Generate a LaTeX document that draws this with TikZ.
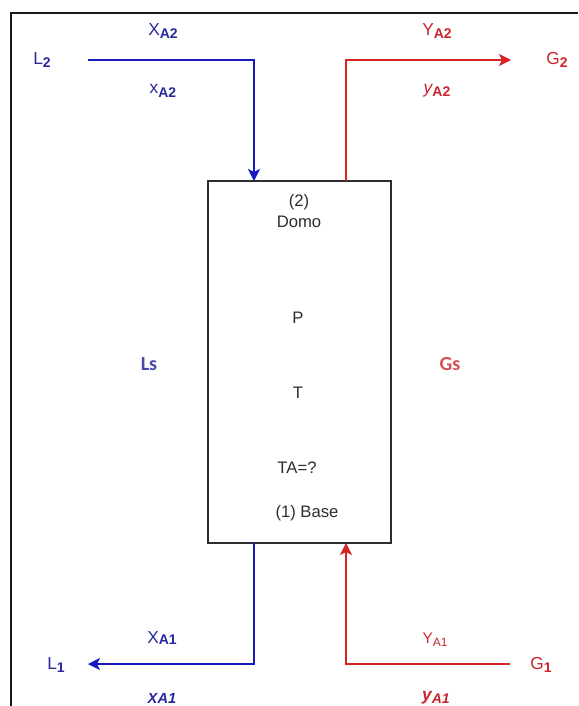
\documentclass[tikz,border=0pt]{standalone}
\usepackage{fontspec}
\setmainfont{Liberation Sans}
\newfontfamily\calibfont{Carlito}
\usetikzlibrary{arrows.meta}
\definecolor{liqline}{RGB}{25,25,190}
\definecolor{gasline}{RGB}{215,35,35}
\definecolor{liqtext}{RGB}{40,40,160}
\definecolor{gastext}{RGB}{205,35,45}
\definecolor{ink}{RGB}{45,45,45}
% lowered bold subscript used in the stream labels
\newcommand\lowsub[2][2.4pt]{\raisebox{-#1}{\fontsize{10.5}{11}\selectfont\bfseries #2}}
\begin{document}
\begin{tikzpicture}[x=0.75pt,y=-0.75pt,
  every node/.style={inner sep=0pt, outer sep=0pt},
  lbl/.style={font=\fontsize{13}{15}\selectfont},
  liq/.style={lbl, text=liqtext},
  gas/.style={lbl, text=gastext},
  coltext/.style={font=\fontsize{12.5}{14}\selectfont, text=ink},
  flowname/.style={font=\calibfont\bfseries\fontsize{15}{16}\selectfont},
  liqflow/.style={draw=liqline, line width=1.1pt, -{Stealth[length=9pt,width=9pt,inset=2.2pt]}},
  gasflow/.style={draw=gasline, line width=1.1pt, -{Stealth[length=9pt,width=9pt,inset=2.2pt]}},
  colbox/.style={draw=ink, line width=1.1pt, minimum width=137.25pt, minimum height=271.5pt}]
\useasboundingbox (0,0) rectangle (578,706);
\fill[white] (0,0) rectangle (578,706);

% open frame
\draw[line width=1.5pt, black!90] (11,706) -- (11,13) -- (578,13);

% absorption column
\node[colbox] (col) at (299.5,362) {};
\node[coltext] (top1) at (299,202) {(2)};
\node[coltext] (top2) at (299,222) {Domo};
\node[coltext] (pres) at (298,318) {P};
\node[coltext] (temp) at (298,393) {T};
\node[coltext] (ta)   at (297,468) {TA=?};
\node[coltext] (base) at (307,513) {(1) Base};

% connection points on the column
\coordinate (liqin)  at (254,181);
\coordinate (gasout) at (346,181);
\coordinate (liqout) at (254,543);
\coordinate (gasin)  at (346,543);

% free ends of the streams
\coordinate (l2start) at (88,60);
\coordinate (g2end)   at (511,60);
\coordinate (l1end)   at (88,664);
\coordinate (g1start) at (510,664);

% streams
\draw[liqflow] (l2start) -| (liqin);
\draw[gasflow] (gasout) |- (g2end);
\draw[liqflow] (liqout) |- (l1end);
\draw[gasflow] (g1start) -| (gasin);

% stream names
\node[liq] (l2) at (42,60) {L\lowsub{2}};
\node[gas] (g2) at (557,60) {G\lowsub{2}};
\node[liq] (l1) at (56,665) {L\lowsub{1}};
\node[gas] (g1) at (541,665) {G\lowsub{1}};
\node[flowname, text=liqtext!85!white] (ls) at (149,364) {Ls};
\node[flowname, text=gastext!80!white] (gs) at (450,364) {Gs};

% compositions at the top
\node[liq] (xA2a) at (163,31) {X\lowsub{A2}};
\node[liq] (xA2b) at (163,91) {x\lowsub{A2}};
\node[gas] (yA2a) at (437,31) {Y\lowsub{A2}};
\node[gas] (yA2b) at (437,91) {\itshape y\upshape\lowsub{A2}};

% compositions at the bottom
\node[liq] (xA1a) at (162,638) {X\lowsub[1.2pt]{A1}};
\node[liq, font=\fontsize{11}{12}\selectfont\bfseries\itshape] (xA1b) at (162,698) {XA1};
\node[gas, font=\fontsize{11.5}{12}\selectfont] (yA1a) at (435,640) {Y\raisebox{-2pt}{\fontsize{9}{9}\selectfont A1}};
\node[gas] (yA1b) at (436,698) {\bfseries\itshape y\raisebox{-2.4pt}{\fontsize{10.5}{11}\selectfont A1}};
\end{tikzpicture}
\end{document}
